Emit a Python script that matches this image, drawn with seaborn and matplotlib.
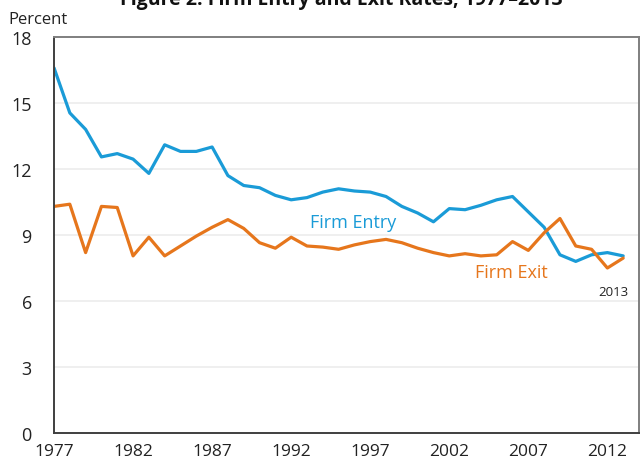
import numpy as np
import pandas as pd
import seaborn as sns
import matplotlib.pyplot as plt

# Values
years = list(range(1977, 2014))
entry_rate = [16.6, 14.55, 13.8, 12.55, 12.7, 12.45, 11.8, 13.1, 12.8, 12.8,
              13.0, 11.7, 11.25, 11.15, 10.8, 10.6, 10.7, 10.95, 11.1, 11.0,
              10.95, 10.75, 10.3, 10.0, 9.6, 10.2, 10.15, 10.35, 10.6, 10.75,
              10.05, 9.35, 8.1, 7.8, 8.1, 8.2, 8.05]
exit_rate = [10.3, 10.4, 8.2, 10.3, 10.25, 8.05, 8.9, 8.05, 8.5, 8.95,
             9.35, 9.7, 9.3, 8.65, 8.4, 8.9, 8.5, 8.45, 8.35, 8.55,
             8.7, 8.8, 8.65, 8.4, 8.2, 8.05, 8.15, 8.05, 8.1, 8.7,
             8.3, 9.1, 9.75, 8.5, 8.35, 7.5, 7.95]
series_names = ['Firm Entry', 'Firm Exit']
x_ticks = [1977, 1982, 1987, 1992, 1997, 2002, 2007, 2012]
y_ticks = [0, 3, 6, 9, 12, 15, 18]

blue = '#1a9bd7'
orange = '#e6761c'

df = pd.DataFrame({
    'year': years * 2,
    'rate': entry_rate + exit_rate,
    'series': [series_names[0]] * len(years) + [series_names[1]] * len(years),
})

sns.set_style('white')
plt.rcParams['font.family'] = ['Open Sans', 'DejaVu Sans']

fig = plt.figure(figsize=(6.42, 4.64), dpi=100)
ax = fig.add_axes([54 / 642, 1 - 434 / 464, 585 / 642, 396 / 464])

sns.lineplot(data=df, x='year', y='rate', hue='series',
             palette={series_names[0]: blue, series_names[1]: orange},
             linewidth=2.3, legend=False, ax=ax)

ax.set_xlim(1977, 2014)
ax.set_ylim(0, 18)
ax.set_xticks(x_ticks)
ax.set_yticks(y_ticks)
ax.set_xlabel('')
ax.set_ylabel('')

# light horizontal gridlines
for v in y_ticks[1:-1]:
    ax.axhline(v, color='#ececec', linewidth=1.2, zorder=0)

for side in ['left', 'bottom']:
    ax.spines[side].set_color('#3f3f3f')
    ax.spines[side].set_linewidth(1.4)
for side in ['top', 'right']:
    ax.spines[side].set_color('#7f7f7f')
    ax.spines[side].set_linewidth(1.4)

ax.tick_params(axis='x', direction='in', length=6, width=1.2, color='#3f3f3f',
               labelsize=12.5, pad=7, labelcolor='#222222')
ax.tick_params(axis='y', direction='in', length=6, width=1.2, color='#3f3f3f',
               labelsize=13, pad=16, labelcolor='#222222')

ax.text(1993.2, 9.6, 'Firm Entry', color=blue, fontsize=13, va='center')
ax.text(2003.6, 7.3, 'Firm Exit', color=orange, fontsize=13, va='center')
ax.text(2012.4, 6.45, '2013', color='#222222', fontsize=9.5, va='center', ha='center')

fig.text(8 / 642, 1 - 28 / 464, 'Percent', fontsize=12, color='#222222', va='bottom')
fig.text(341 / 642, 1 - 5 / 464, 'Figure 2: Firm Entry and Exit Rates, 1977\u20132013',
         fontsize=14, fontweight='bold', ha='center', va='baseline', color='#111111')

fig.savefig('out.png', dpi=100)
